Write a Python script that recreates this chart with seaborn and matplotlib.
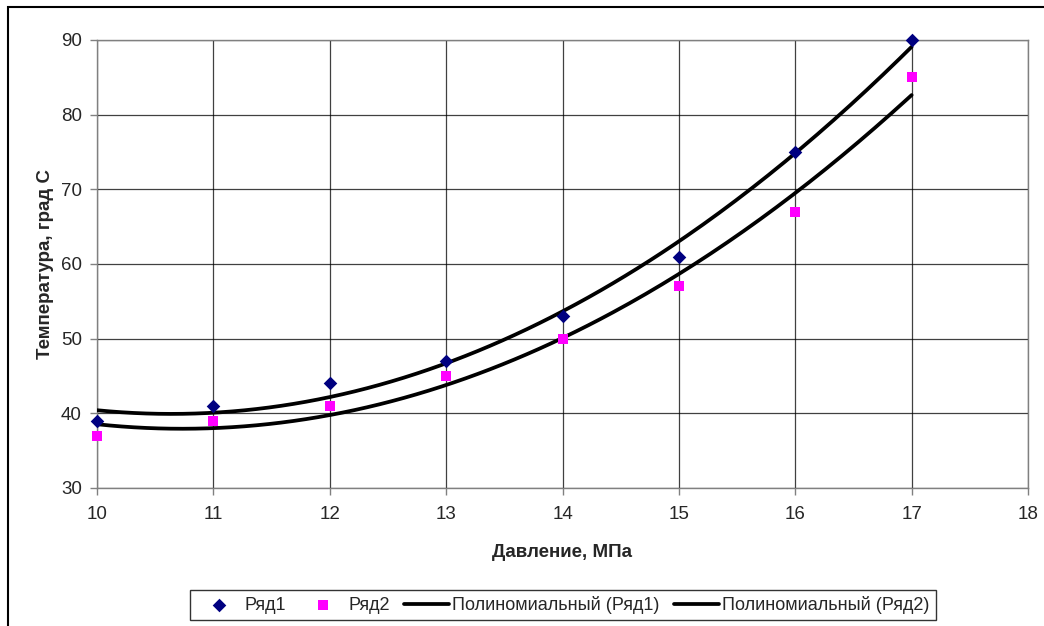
import numpy as np
import pandas as pd
import matplotlib
matplotlib.use("Agg")
import matplotlib.pyplot as plt
import seaborn as sns
from matplotlib.patches import Rectangle

# Data
pressure = [10, 11, 12, 13, 14, 15, 16, 17]
series1 = [39, 41, 44, 47, 53, 61, 75, 90]
series2 = [37, 39, 41, 45, 50, 57, 67, 85]
series_names = ["Ряд1", "Ряд2"]
trend_names = ["Полиномиальный (Ряд1)", "Полиномиальный (Ряд2)"]
x_ticks = [10, 11, 12, 13, 14, 15, 16, 17, 18]
y_ticks = [30, 40, 50, 60, 70, 80, 90]

sns.set_theme(style="white")
plt.rcParams['font.family'] = ['Liberation Sans', 'DejaVu Sans']

fig = plt.figure(figsize=(10.44, 6.26), dpi=100)
ax = fig.add_axes([97/1044, 1 - 488/626, (1028-97)/1044, (488-40)/626])

# outer chart-area frame
fig.patches.append(Rectangle((8/1044, -0.05), 1.1, 1 - 7/626 + 0.05, transform=fig.transFigure,
                             fill=False, edgecolor='black', linewidth=1.5, zorder=0))

df1 = pd.DataFrame({"x": pressure, "y": series1})
df2 = pd.DataFrame({"x": pressure, "y": series2})

# trendlines (2nd-order polynomial fit to data)
xs = np.linspace(pressure[0], pressure[-1], 200)
c1 = np.polyfit(pressure, series1, 2)
c2 = np.polyfit(pressure, series2, 2)
t1 = pd.DataFrame({"x": xs, "y": np.polyval(c1, xs)})
t2 = pd.DataFrame({"x": xs, "y": np.polyval(c2, xs)})

sns.scatterplot(data=df1, x="x", y="y", ax=ax, marker="D", color="#000080", s=48,
                edgecolor="#000080", linewidth=0, label=series_names[0], zorder=4, clip_on=False)
sns.scatterplot(data=df2, x="x", y="y", ax=ax, marker="s", color="#FF00FF", s=62,
                edgecolor="#FF00FF", linewidth=0, label=series_names[1], zorder=4, clip_on=False)
sns.lineplot(data=t1, x="x", y="y", ax=ax, color="black", linewidth=2.7, label=trend_names[0], zorder=3)
sns.lineplot(data=t2, x="x", y="y", ax=ax, color="black", linewidth=2.7, label=trend_names[1], zorder=3)

ax.set_xlim(10, 18)
ax.set_ylim(30, 90)
ax.set_xticks(x_ticks)
ax.set_yticks(y_ticks)
ax.grid(True, color="#000000", linewidth=0.9, alpha=0.75)
ax.set_axisbelow(True)
for s in ax.spines.values():
    s.set_color("#808080")
    s.set_linewidth(1.0)
ax.tick_params(axis='both', which='both', direction='out', length=5, width=1,
               color='#808080', labelsize=13.5, bottom=True, left=True)
ax.tick_params(axis='x', pad=8)
ax.tick_params(axis='y', pad=6)

ax.set_xlabel("Давление, МПа", fontsize=13.5, fontweight='bold', labelpad=15)
ax.set_ylabel("Температура, град С", fontsize=13.5, fontweight='bold', labelpad=5)

handles, labels = ax.get_legend_handles_labels()
ax.get_legend().remove()
leg = fig.legend(handles, labels, loc='center', bbox_to_anchor=(563/1044, 1 - 605/626), ncol=4,
                 frameon=True, fancybox=False, shadow=False, fontsize=13,
                 handlelength=2.5, handletextpad=0.15, columnspacing=0.8, borderpad=0.35,
                 edgecolor='black')
leg.get_frame().set_linewidth(1.0)

fig.savefig("out.png", dpi=100)
